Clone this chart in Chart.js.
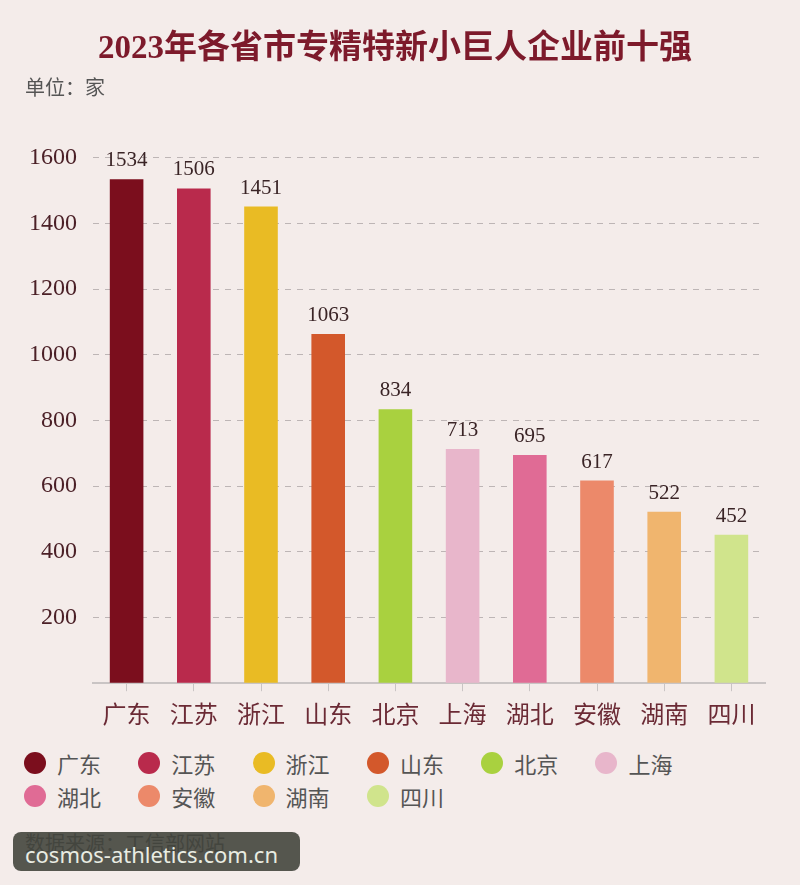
<!DOCTYPE html>
<html><head><meta charset="utf-8">
<script src="https://cdn.jsdelivr.net/npm/chart.js@4"></script>
<style>
html,body{margin:0;padding:0;background:#f4ecea;}
#wrap{position:relative;width:800px;height:885px;overflow:hidden;background:#f4ecea;}
#box{position:absolute;left:0;top:0;width:800px;height:745px;}
#legend{position:absolute;left:24px;top:746px;width:700px;display:flex;flex-wrap:wrap;font-family:"Noto Sans CJK SC",sans-serif;font-size:22px;color:#555;}
.item{width:114.3px;height:33px;display:flex;align-items:center;}
.dot{width:22px;height:22px;border-radius:50%;margin-right:11px;flex:none;}
#src{position:absolute;left:25px;top:830px;font-family:"Noto Sans CJK SC",sans-serif;font-size:20px;color:#7a7a7a;line-height:26px;}
#wm{position:absolute;left:13px;top:832px;width:287px;height:39px;border-radius:8px;background:rgba(58,60,52,0.86);}
#wmt{position:absolute;left:25px;top:839px;font-family:"Noto Sans",sans-serif;font-size:22px;color:#e9ece2;line-height:30px;white-space:nowrap;}
</style>
</head><body>
<div id="wrap">
  <div id="box"><canvas id="c"></canvas></div>
  <div id="legend"></div>
  <div id="src">数据来源：工信部网站</div>
  <div id="wm"></div>
  <div id="wmt">cosmos-athletics.com.cn</div>
</div>
<script>
const categories = ["广东","江苏","浙江","山东","北京","上海","湖北","安徽","湖南","四川"];
const values = [1534,1506,1451,1063,834,713,695,617,522,452];
const yTicks = [0,200,400,600,800,1000,1200,1400,1600];

const barColors = ["#7b0e1d","#b92a4c","#e9bb24","#d3582b","#a9d13f","#e8b6cb","#e06b95","#ec896a","#f0b56e","#d0e48c"];

const valueLabels = {
  id: 'valueLabels',
  afterDatasetsDraw(chart) {
    const ctx = chart.ctx;
    const meta = chart.getDatasetMeta(0);
    ctx.save();
    ctx.font = '21px "Liberation Serif", serif';
    ctx.fillStyle = '#3a2426';
    ctx.textAlign = 'center';
    ctx.textBaseline = 'bottom';
    meta.data.forEach((bar, i) => {
      ctx.fillText(String(values[i]), bar.x, bar.y - 8);
    });
    ctx.restore();
  }
};

new Chart(document.getElementById('c'), {
  type: 'bar',
  data: {
    labels: categories,
    datasets: [{
      data: values,
      backgroundColor: barColors,
      borderWidth: 0,
      categoryPercentage: 1.0,
      barPercentage: 0.5
    }]
  },
  options: {
    responsive: true,
    maintainAspectRatio: false,
    animation: false,
    layout: { padding: { left: 25, right: 35, top: 0, bottom: 9 } },
    plugins: {
      legend: { display: false },
      tooltip: { enabled: false },
      title: {
        display: true,
        text: '2023年各省市专精特新小巨人企业前十强',
        color: '#7d1a2b',
        font: { family: '"Liberation Serif","Noto Sans CJK SC",serif', size: 33, weight: 'bold' },
        padding: { top: 30, bottom: 0 }
      },
      subtitle: {
        display: true,
        text: '单位：家',
        align: 'start',
        color: '#555',
        font: { family: '"Noto Sans CJK SC",sans-serif', size: 20 },
        padding: { top: 6, bottom: 58 }
      }
    },
    scales: {
      x: {
        grid: { display: true, drawOnChartArea: false, drawTicks: true, tickLength: 8, color: '#c9c4c4', offset: false },
        border: { display: true, color: '#c9c4c4', width: 2 },
        ticks: { color: '#6b2a35', font: { family: '"Noto Sans CJK SC",sans-serif', size: 24 }, padding: 8 }
      },
      y: {
        min: 0, max: 1600,
        afterBuildTicks(scale) { scale.ticks = yTicks.map(v => ({ value: v })); },
        afterFit(scale) { scale.width = 68; },
        grid: { color: '#bdb5b5', lineWidth: 1, drawTicks: false },
        border: { display: false, dash: [6, 6] },
        ticks: {
          color: '#4b2027',
          padding: 16,
          font: { family: '"Liberation Serif",serif', size: 24 },
          callback: v => (v === 0 ? '' : v)
        }
      }
    }
  },
  plugins: [valueLabels]
});

const lg = document.getElementById('legend');
categories.forEach((c, i) => {
  const it = document.createElement('div');
  it.className = 'item';
  const d = document.createElement('span');
  d.className = 'dot';
  d.style.background = barColors[i];
  const t = document.createElement('span');
  t.textContent = c;
  it.appendChild(d); it.appendChild(t);
  lg.appendChild(it);
});
</script>
</body></html>
